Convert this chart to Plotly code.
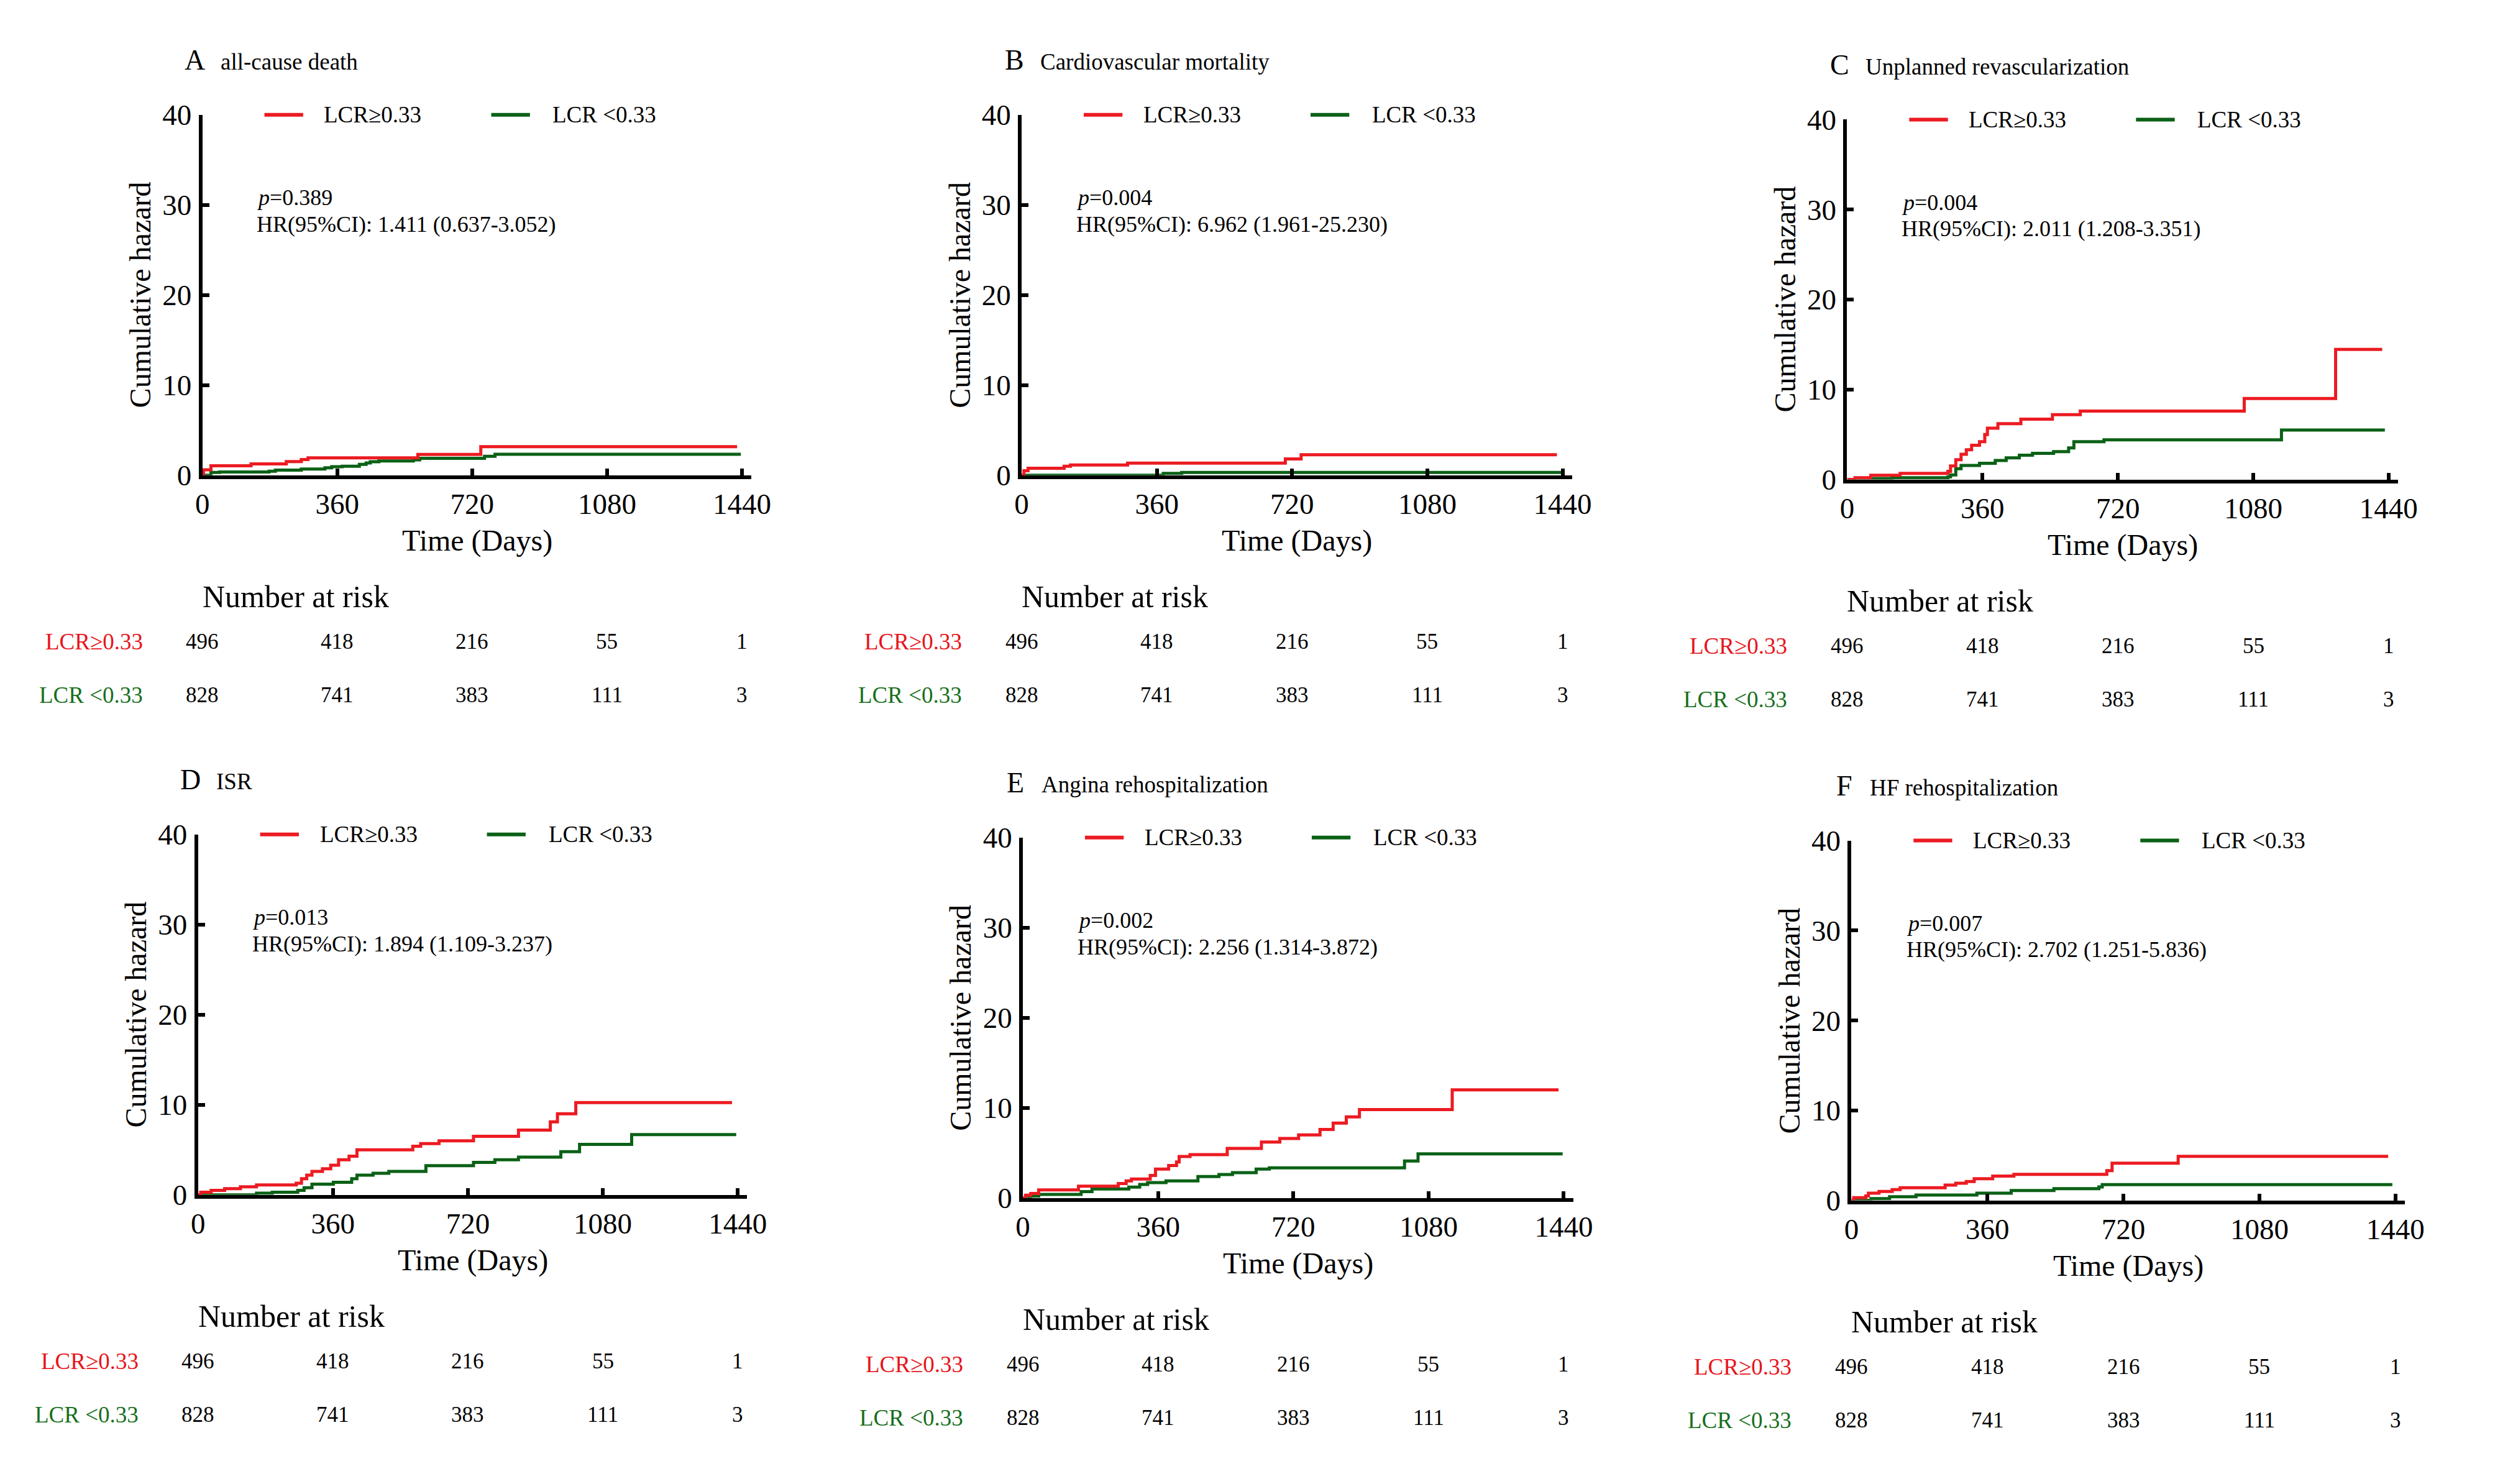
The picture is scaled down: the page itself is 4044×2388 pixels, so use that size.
import plotly.graph_objects as go

# ---------------- data ----------------
panel_letters = ["A", "B", "C", "D", "E", "F"]
panel_titles = ["all-cause death", "Cardiovascular mortality", "Unplanned revascularization",
                "ISR", "Angina rehospitalization", "HF rehospitalization"]
p_values = ["0.389", "0.004", "0.004", "0.013", "0.002", "0.007"]
hr_texts = ["1.411 (0.637-3.052)", "6.962 (1.961-25.230)", "2.011 (1.208-3.351)",
            "1.894 (1.109-3.237)", "2.256 (1.314-3.872)", "2.702 (1.251-5.836)"]

group_names = ["LCR≥0.33", "LCR <0.33"]
risk_times = [0, 360, 720, 1080, 1440]
risk_high = [496, 418, 216, 55, 1]
risk_low = [828, 741, 383, 111, 3]

x_ticks = [0, 360, 720, 1080, 1440]
y_ticks = [0, 10, 20, 30, 40]

A_red_t = [0, 3, 23, 130, 224, 264, 282, 575, 743, 1427]
A_red_v = [0, 0.6, 1.05, 1.26, 1.52, 1.74, 1.93, 2.3, 3.17, 3.17]
A_green_t = [0, 23, 46, 178, 195, 264, 327, 345, 373, 419, 437, 448, 471, 563, 580, 753, 781, 1437]
A_green_v = [0, 0.3, 0.35, 0.45, 0.56, 0.68, 0.83, 0.95, 1.0, 1.2, 1.35, 1.5, 1.58, 1.7, 1.87, 2.1, 2.32, 2.32]

B_red_t = [0, 6, 17, 113, 130, 282, 702, 744, 1425]
B_red_v = [0, 0.5, 0.77, 1.0, 1.13, 1.34, 1.8, 2.27, 2.27]
B_green_t = [0, 377, 426, 1436]
B_green_v = [0, 0.2, 0.3, 0.3]

C_red_t = [0, 21, 63, 141, 268, 275, 289, 303, 317, 331, 352, 366, 373, 401, 462, 546, 620, 1056, 1299, 1423]
C_red_v = [0, 0.2, 0.46, 0.67, 0.9, 1.5, 2.2, 2.8, 3.3, 3.8, 4.2, 5.0, 5.7, 6.2, 6.7, 7.2, 7.6, 9.0, 14.45, 14.45]
C_green_t = [0, 40, 120, 268, 275, 289, 303, 352, 394, 423, 458, 493, 549, 589, 603, 683, 1155, 1430]
C_green_v = [0, 0.1, 0.2, 0.3, 0.5, 1.2, 1.55, 1.8, 2.1, 2.4, 2.7, 2.9, 3.1, 3.5, 4.2, 4.4, 5.5, 5.5]

D_red_t = [0, 7, 35, 71, 113, 156, 262, 276, 290, 304, 332, 354, 375, 403, 424, 573, 594, 643, 735, 855, 940, 959, 1008, 1425]
D_red_v = [0, 0.3, 0.5, 0.7, 0.9, 1.1, 1.3, 1.8, 2.2, 2.6, 2.9, 3.3, 3.9, 4.3, 5.0, 5.4, 5.7, 6.0, 6.5, 7.2, 8.1, 9.0, 10.25, 10.25]
D_green_t = [0, 156, 198, 266, 283, 304, 361, 410, 424, 467, 509, 608, 735, 792, 855, 968, 1018, 1157, 1436]
D_green_v = [0, 0.2, 0.3, 0.5, 0.8, 1.2, 1.4, 1.8, 2.2, 2.4, 2.6, 3.25, 3.6, 3.9, 4.2, 4.8, 5.6, 6.7, 6.7]

E_red_t = [0, 7, 21, 42, 148, 254, 275, 289, 339, 353, 388, 409, 416, 445, 544, 635, 684, 734, 791, 826, 861, 896, 1143, 1426]
E_red_v = [0, 0.3, 0.5, 0.9, 1.3, 1.6, 1.9, 2.1, 2.5, 3.2, 3.6, 4.0, 4.6, 4.8, 5.5, 6.2, 6.6, 7.0, 7.6, 8.3, 9.0, 9.8, 12.0, 12.0]
E_green_t = [0, 21, 42, 155, 184, 282, 311, 332, 381, 466, 522, 558, 621, 656, 1016, 1052, 1437]
E_green_v = [0, 0.2, 0.4, 0.7, 1.0, 1.2, 1.5, 1.7, 1.9, 2.37, 2.6, 2.8, 3.2, 3.35, 4.1, 4.9, 4.9]

F_red_t = [0, 6, 38, 45, 73, 108, 129, 248, 276, 304, 325, 374, 430, 676, 690, 865, 1421]
F_red_v = [0, 0.3, 0.5, 0.8, 1.0, 1.2, 1.4, 1.7, 1.9, 2.1, 2.4, 2.7, 2.9, 3.3, 4.13, 4.9, 4.9]
F_green_t = [0, 52, 101, 171, 332, 423, 536, 655, 664, 1432]
F_green_v = [0, 0.2, 0.4, 0.6, 0.8, 1.1, 1.3, 1.5, 1.75, 1.75]

red_series = [(A_red_t, A_red_v), (B_red_t, B_red_v), (C_red_t, C_red_v),
              (D_red_t, D_red_v), (E_red_t, E_red_v), (F_red_t, F_red_v)]
green_series = [(A_green_t, A_green_v), (B_green_t, B_green_v), (C_green_t, C_green_v),
                (D_green_t, D_green_v), (E_green_t, E_green_v), (F_green_t, F_green_v)]

# ---------------- layout constants (page pixels) ----------------
PAGE_W, PAGE_H = 4044, 2388
OFF = 8                                 # default page body margin
W, H = PAGE_W - OFF, PAGE_H - OFF       # figure size
PX0 = [317, 1650, 2993, 310, 1652, 3000]      # x pixel of day 0 (y axis)
PX1440 = [1195, 2530, 3874, 1188, 2532, 3885]  # x pixel of day 1440
PY40 = [162, 162, 170, 1346, 1351, 1356]      # y pixel of value 40
PY0 = [755, 755, 762, 1939, 1944, 1948]       # y pixel of value 0
XMAX = 1465

RED = "#EC1B22"
GREEN = "#0B6116"
RED_TXT = "#E8141B"
GREEN_TXT = "#17701C"
FONT = "Liberation Serif"


def px(x):
    return (x - OFF) / W


def py(y):
    return 1 - (y - OFF) / H


fig = go.Figure()
annotations = []
shapes = []
layout_axes = {}

for i in range(6):
    sx = "" if i == 0 else str(i + 1)
    xa, ya = "x" + sx, "y" + sx
    x0, x1, y40, y0 = PX0[i], PX1440[i], PY40[i], PY0[i]
    span = x1 - x0
    layout_axes["xaxis" + sx] = dict(
        domain=[px(x0), px(x0 + span * XMAX / 1440)], range=[0, XMAX], anchor=ya,
        tickvals=x_ticks, ticks="inside", ticklen=11, tickwidth=6, tickcolor="black",
        showline=True, linewidth=6, linecolor="black", showgrid=False, zeroline=False,
        tickfont=dict(family=FONT, size=47, color="black"), ticklabelstandoff=0,
        fixedrange=True)
    layout_axes["yaxis" + sx] = dict(
        domain=[py(y0), py(y40)], range=[0, 40], anchor=xa,
        tickvals=y_ticks, ticks="inside", ticklen=11, tickwidth=6, tickcolor="black",
        showline=True, linewidth=6, linecolor="black", showgrid=False, zeroline=False,
        tickfont=dict(family=FONT, size=47, color="black"), ticklabelstandoff=2,
        fixedrange=True)

    for (t, v), col, name in [(green_series[i], GREEN, group_names[1]),
                              (red_series[i], RED, group_names[0])]:
        fig.add_trace(go.Scatter(x=t, y=v, mode="lines", line=dict(color=col, width=5, shape="hv"),
                                 xaxis=xa, yaxis=ya, name=name, showlegend=False))

    # panel title (letter + outcome)
    base = y40 - 75
    annotations.append(dict(text=panel_letters[i], xref="paper", yref="paper",
                            x=px(x0 - 12), y=py(base - 15), xanchor="center", yanchor="middle",
                            showarrow=False, font=dict(family=FONT, size=46, color="black")))
    annotations.append(dict(text=panel_titles[i], xref="paper", yref="paper",
                            x=px(x0 + 28), y=py(base - 12), xanchor="left", yanchor="middle",
                            showarrow=False, font=dict(family=FONT, size=37, color="black")))
    # legend
    shapes.append(dict(type="line", xref="paper", yref="paper", x0=px(x0 + 101), x1=px(x0 + 164),
                       y0=py(y40), y1=py(y40), line=dict(color=RED, width=6)))
    annotations.append(dict(text=group_names[0], xref="paper", yref="paper", x=px(x0 + 196), y=py(y40),
                            xanchor="left", yanchor="middle", showarrow=False,
                            font=dict(family=FONT, size=37, color="black")))
    shapes.append(dict(type="line", xref="paper", yref="paper", x0=px(x0 + 470), x1=px(x0 + 533),
                       y0=py(y40), y1=py(y40), line=dict(color=GREEN, width=6)))
    annotations.append(dict(text=group_names[1], xref="paper", yref="paper", x=px(x0 + 568), y=py(y40),
                            xanchor="left", yanchor="middle", showarrow=False,
                            font=dict(family=FONT, size=37, color="black")))
    # statistics
    annotations.append(dict(text="<i>p</i>=" + p_values[i], xref=xa, yref=ya, x=142, y=30.8,
                            xanchor="left", yanchor="middle", showarrow=False,
                            font=dict(family=FONT, size=36, color="black")))
    annotations.append(dict(text="HR(95%CI): " + hr_texts[i], xref=xa, yref=ya, x=142, y=27.85,
                            xanchor="left", yanchor="middle", showarrow=False,
                            font=dict(family=FONT, size=36, color="black")))
    # axis titles
    annotations.append(dict(text="Cumulative hazard", xref="paper", yref="paper",
                            x=px(x0 - 101), y=py((y40 + y0) / 2), textangle=-90,
                            xanchor="center", yanchor="middle", showarrow=False,
                            font=dict(family=FONT, size=48, color="black")))
    annotations.append(dict(text="Time (Days)", xref="paper", yref="paper",
                            x=px(x0 + span / 2 + 8), y=py(y0 + 108),
                            xanchor="center", yanchor="middle", showarrow=False,
                            font=dict(family=FONT, size=48, color="black")))
    # number at risk table
    annotations.append(dict(text="Number at risk", xref="paper", yref="paper",
                            x=px(x0 - 2), y=py(y0 + 200), xanchor="left", yanchor="middle",
                            showarrow=False, font=dict(family=FONT, size=50, color="black")))
    for row_vals, label, col, dy in [(risk_high, group_names[0], RED_TXT, 274),
                                     (risk_low, group_names[1], GREEN_TXT, 362)]:
        annotations.append(dict(text=label, xref="paper", yref="paper", x=px(x0 - 95), y=py(y0 + dy),
                                xanchor="right", yanchor="middle", showarrow=False,
                                font=dict(family=FONT, size=37, color=col)))
        for t, n in zip(risk_times, row_vals):
            annotations.append(dict(text=str(n), xref=xa, yref="paper", x=t, y=py(y0 + dy),
                                    xanchor="center", yanchor="middle", showarrow=False,
                                    font=dict(family=FONT, size=35, color="black")))

fig.update_layout(width=W, height=H, autosize=False, margin=dict(l=0, r=0, t=0, b=0),
                  paper_bgcolor="white", plot_bgcolor="white", showlegend=False,
                  annotations=annotations, shapes=shapes, **layout_axes)

fig.write_html("out.html")
